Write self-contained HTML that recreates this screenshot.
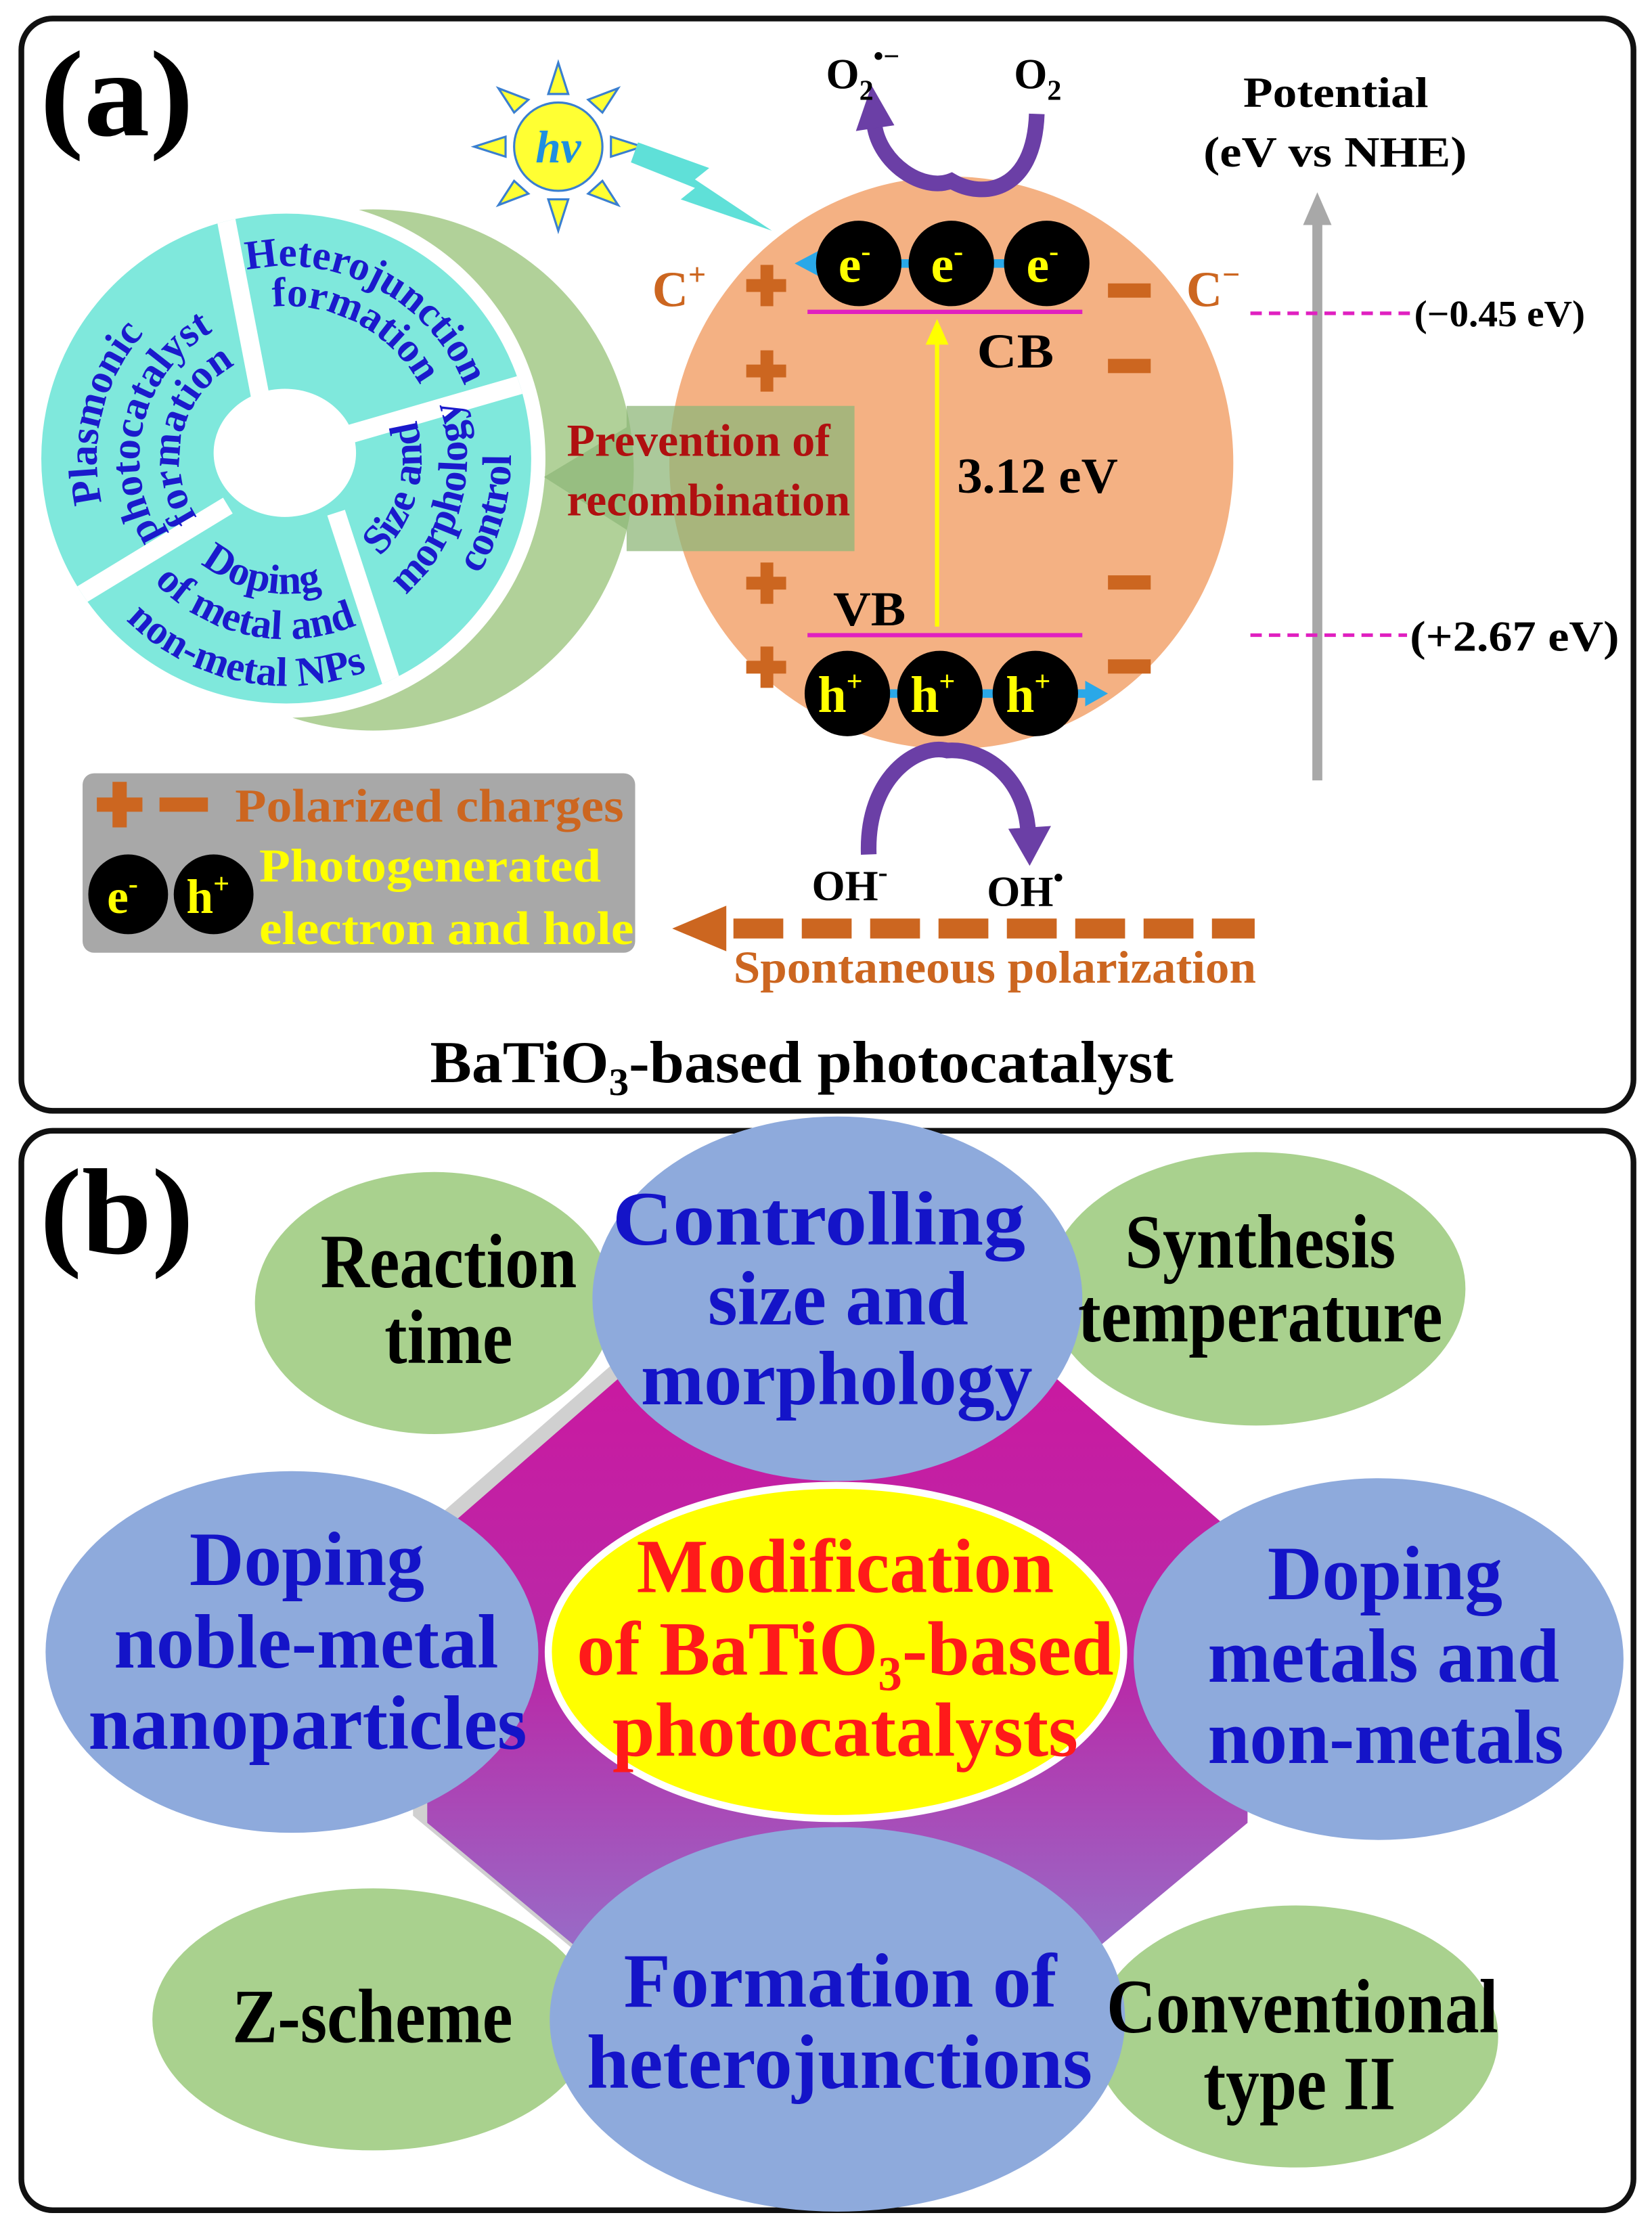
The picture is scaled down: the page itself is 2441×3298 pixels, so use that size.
<!DOCTYPE html>
<html><head><meta charset="utf-8"><style>
html,body{margin:0;padding:0;background:#fff}
svg{display:block}
text{font-family:"Liberation Serif",serif;font-weight:bold}
</style></head><body>
<svg width="2441" height="3298" viewBox="0 0 1160 1567.3" preserveAspectRatio="none" xmlns="http://www.w3.org/2000/svg">
<defs>
<linearGradient id="dg" x1="0" y1="0" x2="0" y2="1">
<stop offset="0" stop-color="#d40f9c"/><stop offset="0.5" stop-color="#b82aa8"/><stop offset="1" stop-color="#7fa0e0"/>
</linearGradient>
<clipPath id="wc"><circle cx="201" cy="322" r="172"/></clipPath>
<path id="p1" d="M146.9,443.5 A133,133 0 0 1 210.3,189.3"/>
<path id="p2" d="M159.1,416.1 A103,103 0 0 1 208.2,219.2"/>
<path id="p3" d="M170.5,390.5 A75,75 0 0 1 206.2,247.2"/>
<path id="h1" d="M94.6,238.8 A135,135 0 0 1 329.4,363.7"/>
<path id="h2" d="M116.7,256.1 A107,107 0 0 1 302.8,355.1"/>
<path id="s1" d="M192.7,416.6 A95,95 0 0 0 241.2,235.9"/>
<path id="s2" d="M190,448.5 A127,127 0 0 0 254.7,206.9"/>
<path id="s3" d="M187.3,479.4 A158,158 0 0 0 267.8,178.9"/>
<path id="d1" d="M106.1,318.7 A95,95 0 0 0 289.1,357.6"/>
<path id="d2" d="M74.1,317.6 A127,127 0 0 0 318.7,369.6"/>
<path id="d3" d="M41.2,316.4 A160,160 0 0 0 349.3,382"/>
</defs>

<rect x="15" y="13" width="1132" height="767" rx="22" fill="none" stroke="#111" stroke-width="4"/>
<rect x="15" y="794" width="1132" height="758" rx="22" fill="none" stroke="#111" stroke-width="4"/>

<!-- ===== PANEL A ===== -->
<text x="28" y="95" font-size="86" textLength="108" lengthAdjust="spacingAndGlyphs">(a)</text>

<circle cx="262" cy="330" r="183" fill="#a9cc8e" opacity="0.9"/>
<circle cx="201" cy="322" r="182" fill="#fff"/>
<circle cx="201" cy="322" r="172" fill="#7fe8dc"/>
<ellipse cx="200" cy="318" rx="50" ry="45" fill="#fff"/>
<g stroke="#fff" stroke-width="13" clip-path="url(#wc)">
<line x1="184" y1="285" x2="157" y2="145"/>
<line x1="245" y1="305" x2="380" y2="266"/>
<line x1="236" y1="360" x2="280" y2="495"/>
<line x1="160" y1="355" x2="45" y2="425"/>
</g>
<g fill="#1a1acc" font-size="29">
<text><textPath href="#p1" startOffset="50%" text-anchor="middle">Plasmonic</textPath></text>
<text><textPath href="#p2" startOffset="50%" text-anchor="middle">photocatalyst</textPath></text>
<text><textPath href="#p3" startOffset="50%" text-anchor="middle">formation</textPath></text>
<text><textPath href="#h1" startOffset="50%" text-anchor="middle">Heterojunction</textPath></text>
<text><textPath href="#h2" startOffset="50%" text-anchor="middle">formation</textPath></text>
<text><textPath href="#s1" startOffset="50%" text-anchor="middle">Size and</textPath></text>
<text><textPath href="#s2" startOffset="50%" text-anchor="middle">morphology</textPath></text>
<text><textPath href="#s3" startOffset="50%" text-anchor="middle">control</textPath></text>
<text><textPath href="#d1" startOffset="50%" text-anchor="middle">Doping</textPath></text>
<text><textPath href="#d2" startOffset="50%" text-anchor="middle">of metal and</textPath></text>
<text><textPath href="#d3" startOffset="50%" text-anchor="middle">non-metal NPs</textPath></text>
</g>

<ellipse cx="668" cy="325" rx="198" ry="201" fill="#f4b183"/>

<polygon points="600,285 440,285 440,300 382,335 440,372 440,387 600,387" fill="#8fb77a" opacity="0.75"/>
<text x="398" y="320" font-size="32" fill="#b01010" textLength="185" lengthAdjust="spacingAndGlyphs">Prevention of</text>
<text x="398" y="362" font-size="32" fill="#b01010" textLength="199" lengthAdjust="spacingAndGlyphs">recombination</text>

<g fill="#ffff33" stroke="#3a7fd0" stroke-width="1.5">
<polygon points="385,66 392,44 399,66"/><polygon points="385,140 392,162 399,140"/>
<polygon points="355,96 333,103 355,110"/><polygon points="429,96 451,103 429,110"/>
<polygon points="361,79 350,62 371,70"/><polygon points="423,79 434,62 413,70"/>
<polygon points="361,127 350,144 371,136"/><polygon points="423,127 434,144 413,136"/>
<circle cx="392" cy="103" r="31"/>
</g>
<text x="392" y="114" font-size="32" fill="#1e8fe0" font-style="italic" text-anchor="middle">hν</text>
<polygon points="448,100 498,118 488,126 542,162 478,140 488,132 443,114" fill="#5fe0d8"/>

<path d="M728,80 C726,135 690,140 668,127 C648,135 618,115 614,88" fill="none" stroke="#6b3fa6" stroke-width="11"/>
<polygon points="601,92 612,60 628,88" fill="#6b3fa6"/>
<text x="580" y="62" font-size="30">O<tspan font-size="20" dy="8">2</tspan><tspan font-size="20" dy="-24">•−</tspan></text>
<text x="712" y="62" font-size="30">O<tspan font-size="20" dy="8">2</tspan></text>

<line x1="572" y1="185" x2="760" y2="185" stroke="#2aa8e8" stroke-width="6"/>
<polygon points="558,185 575,176 575,194" fill="#2aa8e8"/>
<g fill="#000"><circle cx="603" cy="185" r="30"/><circle cx="668" cy="185" r="30"/><circle cx="735" cy="185" r="30"/></g>
<g fill="#ffff00" font-size="36" text-anchor="middle">
<text x="600" y="198">e<tspan font-size="20" dy="-15">-</tspan></text>
<text x="665" y="198">e<tspan font-size="20" dy="-15">-</tspan></text>
<text x="732" y="198">e<tspan font-size="20" dy="-15">-</tspan></text>
</g>
<line x1="567" y1="219" x2="760" y2="219" stroke="#e020c0" stroke-width="3"/>
<text x="686" y="258" font-size="34" textLength="54" lengthAdjust="spacingAndGlyphs">CB</text>
<line x1="658" y1="440" x2="658" y2="240" stroke="#ffff00" stroke-width="3"/>
<polygon points="650,242 658,224 666,242" fill="#ffff00"/>
<text x="672" y="346" font-size="35" textLength="113" lengthAdjust="spacingAndGlyphs">3.12 eV</text>
<text x="585" y="439" font-size="34" textLength="51" lengthAdjust="spacingAndGlyphs">VB</text>
<line x1="567" y1="446" x2="760" y2="446" stroke="#e020c0" stroke-width="3"/>
<line x1="580" y1="487" x2="765" y2="487" stroke="#2aa8e8" stroke-width="6"/>
<polygon points="778,487 762,478 762,496" fill="#2aa8e8"/>
<g fill="#000"><circle cx="595" cy="487" r="30"/><circle cx="660" cy="487" r="30"/><circle cx="727" cy="487" r="30"/></g>
<g fill="#ffff00" font-size="36" text-anchor="middle">
<text x="590" y="500">h<tspan font-size="20" dy="-15">+</tspan></text>
<text x="655" y="500">h<tspan font-size="20" dy="-15">+</tspan></text>
<text x="722" y="500">h<tspan font-size="20" dy="-15">+</tspan></text>
</g>

<g fill="#cc6620">
<rect x="524" y="196" width="28" height="9"/><rect x="534" y="186" width="9" height="29"/>
<rect x="524" y="256" width="28" height="9"/><rect x="534" y="246" width="9" height="29"/>
<rect x="524" y="405" width="28" height="9"/><rect x="534" y="395" width="9" height="29"/>
<rect x="524" y="464" width="28" height="9"/><rect x="534" y="454" width="9" height="29"/>
<rect x="778" y="199" width="30" height="10"/><rect x="778" y="252" width="30" height="10"/>
<rect x="778" y="404" width="30" height="10"/><rect x="778" y="463" width="30" height="10"/>
</g>
<text x="458" y="215" font-size="35" fill="#cc6620">C<tspan font-size="22" dy="-15">+</tspan></text>
<text x="833" y="215" font-size="35" fill="#cc6620">C<tspan font-size="22" dy="-15">−</tspan></text>

<path d="M610,600 C608,545 645,522 665,527 C690,525 720,545 722,585" fill="none" stroke="#6b3fa6" stroke-width="11"/>
<polygon points="708,582 723,608 738,580" fill="#6b3fa6"/>
<text x="570" y="632" font-size="30">OH<tspan font-size="20" dy="-13">-</tspan></text>
<text x="693" y="636" font-size="30">OH<tspan font-size="20" dy="-13">•</tspan></text>

<polygon points="472,652 510,636 510,668" fill="#cc6620"/>
<g fill="#cc6620">
<rect x="515" y="645" width="35" height="14"/><rect x="563" y="645" width="35" height="14"/>
<rect x="611" y="645" width="35" height="14"/><rect x="659" y="645" width="35" height="14"/>
<rect x="707" y="645" width="35" height="14"/><rect x="755" y="645" width="35" height="14"/>
<rect x="803" y="645" width="35" height="14"/><rect x="851" y="645" width="30" height="14"/>
</g>
<text x="515" y="690" font-size="32" fill="#cc6620" textLength="367" lengthAdjust="spacingAndGlyphs">Spontaneous polarization</text>

<rect x="58" y="543" width="388" height="126" rx="8" fill="#a8a8a8"/>
<g fill="#cc6620">
<rect x="68" y="560" width="32" height="10"/><rect x="79" y="549" width="10" height="32"/>
<rect x="112" y="560" width="34" height="10"/>
</g>
<text x="165" y="577" font-size="33" fill="#cc6620" textLength="273" lengthAdjust="spacingAndGlyphs">Polarized charges</text>
<circle cx="90" cy="628" r="28" fill="#000"/><circle cx="150" cy="628" r="28" fill="#000"/>
<text x="86" y="641" font-size="34" fill="#ffff00" text-anchor="middle">e<tspan font-size="20" dy="-14">-</tspan></text>
<text x="146" y="641" font-size="34" fill="#ffff00" text-anchor="middle">h<tspan font-size="20" dy="-14">+</tspan></text>
<text x="182" y="619" font-size="33" fill="#ffff00" textLength="240" lengthAdjust="spacingAndGlyphs">Photogenerated</text>
<text x="182" y="663" font-size="33" fill="#ffff00" textLength="263" lengthAdjust="spacingAndGlyphs">electron and hole</text>

<text x="873" y="75" font-size="30" textLength="130" lengthAdjust="spacingAndGlyphs">Potential</text>
<text x="845" y="117" font-size="30" textLength="185" lengthAdjust="spacingAndGlyphs">(eV vs NHE)</text>
<line x1="925" y1="548" x2="925" y2="155" stroke="#a8a8a8" stroke-width="7"/>
<polygon points="915,158 925,135 935,158" fill="#a8a8a8"/>
<line x1="878" y1="220" x2="990" y2="220" stroke="#e020c0" stroke-width="2.5" stroke-dasharray="8,5"/>
<text x="993" y="229" font-size="26" textLength="120" lengthAdjust="spacingAndGlyphs">(−0.45 eV)</text>
<line x1="878" y1="446" x2="988" y2="446" stroke="#e020c0" stroke-width="2.5" stroke-dasharray="8,5"/>
<text x="990" y="457" font-size="30" textLength="147" lengthAdjust="spacingAndGlyphs">(+2.67 eV)</text>

<text x="302" y="760" font-size="42" textLength="522" lengthAdjust="spacingAndGlyphs">BaTiO<tspan font-size="27" dy="9">3</tspan><tspan dy="-9">-based photocatalyst</tspan></text>

<!-- ===== PANEL B ===== -->
<text x="28" y="880" font-size="86" textLength="108" lengthAdjust="spacingAndGlyphs">(b)</text>
<polygon points="588,834 300,1085 300,1280 588,1520 876,1280 876,1085" fill="#777" opacity="0.35" transform="translate(-10,-5)"/>
<polygon points="588,834 300,1085 300,1280 588,1520 876,1280 876,1085" fill="url(#dg)"/>

<g fill="#a9d18e">
<ellipse cx="305" cy="915" rx="126" ry="92"/>
<ellipse cx="882" cy="905" rx="147" ry="96"/>
<ellipse cx="262" cy="1418" rx="155" ry="92"/>
<ellipse cx="910" cy="1430" rx="142" ry="92"/>
</g>
<g fill="#8eaadc">
<ellipse cx="588" cy="912" rx="172" ry="128"/>
<ellipse cx="205" cy="1160" rx="173" ry="127"/>
<ellipse cx="968" cy="1165" rx="172" ry="127"/>
<ellipse cx="588" cy="1418" rx="202" ry="135"/>
</g>
<ellipse cx="587" cy="1160" rx="202" ry="117" fill="#ffff00" stroke="#fff" stroke-width="5"/>

<g font-size="54" fill="#000">
<text x="225" y="904" textLength="180" lengthAdjust="spacingAndGlyphs">Reaction</text>
<text x="270" y="957" textLength="90" lengthAdjust="spacingAndGlyphs">time</text>
<text x="790" y="890" textLength="190" lengthAdjust="spacingAndGlyphs">Synthesis</text>
<text x="757" y="942" textLength="256" lengthAdjust="spacingAndGlyphs">temperature</text>
<text x="163" y="1434" textLength="197" lengthAdjust="spacingAndGlyphs">Z-scheme</text>
<text x="777" y="1427" textLength="275" lengthAdjust="spacingAndGlyphs">Conventional</text>
<text x="845" y="1481" textLength="135" lengthAdjust="spacingAndGlyphs">type II</text>
</g>
<g font-size="54" fill="#1414c8">
<text x="430" y="874" textLength="290" lengthAdjust="spacingAndGlyphs">Controlling</text>
<text x="497" y="930" textLength="183" lengthAdjust="spacingAndGlyphs">size and</text>
<text x="450" y="986" textLength="275" lengthAdjust="spacingAndGlyphs">morphology</text>
<text x="133" y="1113" textLength="165" lengthAdjust="spacingAndGlyphs">Doping</text>
<text x="80" y="1171" textLength="270" lengthAdjust="spacingAndGlyphs">noble-metal</text>
<text x="62" y="1228" textLength="308" lengthAdjust="spacingAndGlyphs">nanoparticles</text>
<text x="890" y="1123" textLength="165" lengthAdjust="spacingAndGlyphs">Doping</text>
<text x="848" y="1181" textLength="247" lengthAdjust="spacingAndGlyphs">metals and</text>
<text x="848" y="1238" textLength="250" lengthAdjust="spacingAndGlyphs">non-metals</text>
<text x="438" y="1409" textLength="304" lengthAdjust="spacingAndGlyphs">Formation of</text>
<text x="412" y="1466" textLength="355" lengthAdjust="spacingAndGlyphs">heterojunctions</text>
</g>
<g font-size="54" fill="#ff1a1a">
<text x="447" y="1118" textLength="293" lengthAdjust="spacingAndGlyphs">Modification</text>
<text x="405" y="1176" textLength="377" lengthAdjust="spacingAndGlyphs">of BaTiO<tspan font-size="34" dy="11">3</tspan><tspan dy="-11">-based</tspan></text>
<text x="430" y="1233" textLength="327" lengthAdjust="spacingAndGlyphs">photocatalysts</text>
</g>
</svg>
</body></html>
